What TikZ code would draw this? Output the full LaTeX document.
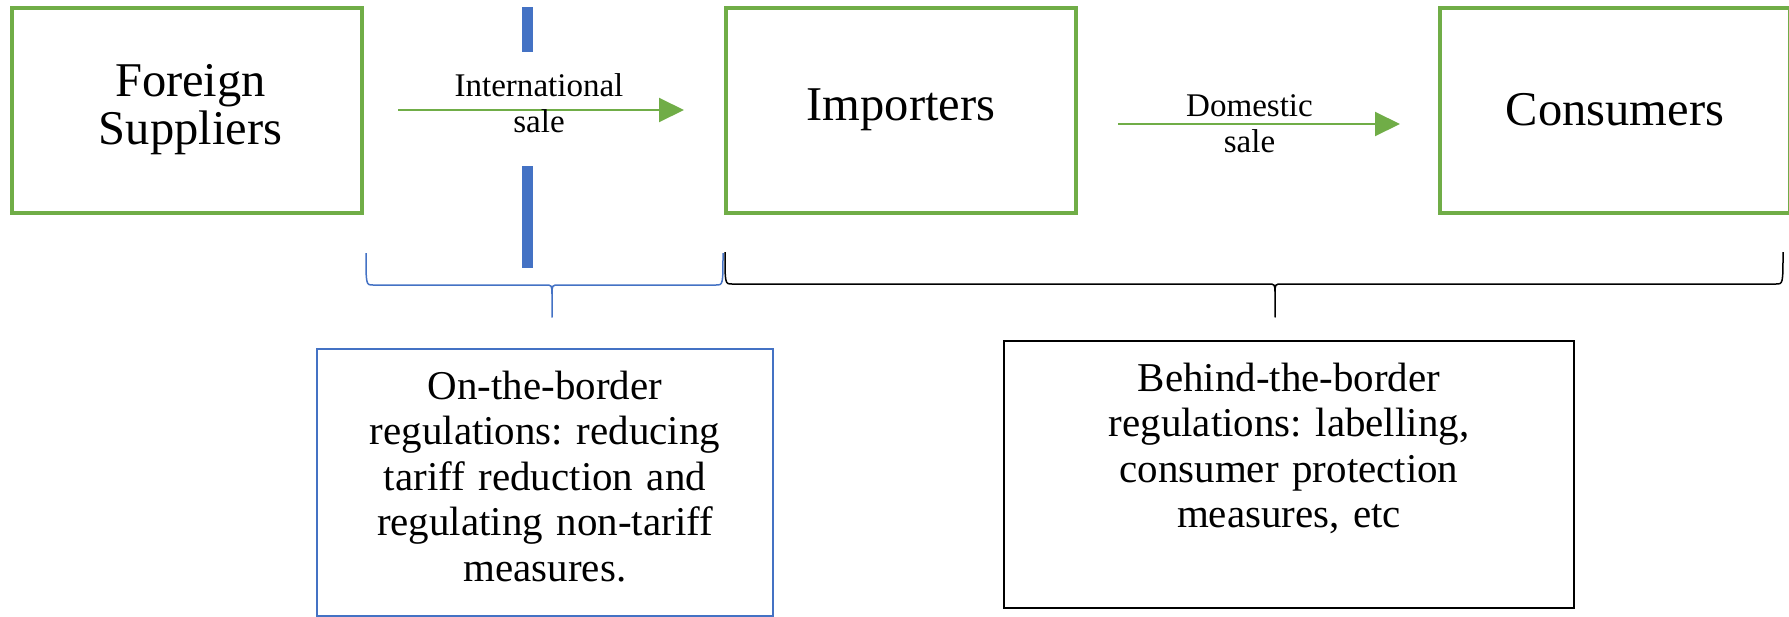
\documentclass[tikz,border=0pt]{standalone}
\usepackage{fontspec}
\setmainfont{Liberation Serif}
\usetikzlibrary{arrows.meta,positioning}
\definecolor{tradegreen}{RGB}{112,173,71}
\definecolor{borderblue}{RGB}{68,114,196}
\tikzset{
  tradebox/.style={draw=tradegreen, line width=0.08cm, minimum width=7cm, minimum height=4.1cm, align=center, font=\fontsize{27.6}{27.3}\selectfont},
  salearrow/.style={-{Triangle[length=0.5cm, width=0.48cm]}, color=tradegreen, line width=0.04cm},
  salelabel/.style={align=center, text=black, inner sep=0pt, font=\fontsize{18.8}{20.3}\selectfont},
  regbox/.style={draw, anchor=north, align=center, inner xsep=0pt, inner ysep=0.44cm, text depth=3.9cm, font=\fontsize{23.3}{25.9}\selectfont\frenchspacing},
  bracelink/.style={line width=0.03cm, line join=round},
  borderbar/.style={borderblue, line width=0.22cm}
}
\begin{document}
\begin{tikzpicture}[node distance=7.2cm]
\useasboundingbox (0,0) rectangle (35.78,-12.32);
\node[tradebox] (suppliers) at (3.74,-2.2) {\hspace*{0.14cm}Foreign\\\hspace*{0.14cm}Suppliers};
\node[tradebox, right=of suppliers] (importers) {Importers};
\node[tradebox, right=of importers] (consumers) {Consumers};
% the border
\draw[borderbar] (10.55,-0.14) -- (10.55,-1.04) (10.55,-3.32) -- (10.55,-5.36);
% sales
\draw[salearrow, shorten <=0.68cm, shorten >=0.8cm] (suppliers) -- node[salelabel, xshift=-0.1cm, yshift=0.14cm] {International\\sale} (importers);
\draw[salearrow, shorten <=0.8cm, shorten >=0.76cm] ([yshift=-0.28cm]importers.east) -- node[salelabel, xshift=-0.17cm] {Domestic\\sale} ([yshift=-0.28cm]consumers.west);
% braces
\draw[bracelink, borderblue] (7.32,-5.06) .. controls (7.32,-5.7) .. (7.46,-5.7) -- (10.9,-5.7) .. controls (11.04,-5.7) .. (11.04,-5.9) -- (11.04,-6.34) -- (11.04,-5.9) .. controls (11.04,-5.7) .. (11.18,-5.7) -- (14.32,-5.7) .. controls (14.46,-5.7) .. (14.46,-5.06);
\draw[bracelink] (14.5,-5.04) .. controls (14.5,-5.68) .. (14.64,-5.68) -- (25.36,-5.68) .. controls (25.5,-5.68) .. (25.5,-5.88) -- (25.5,-6.34) -- (25.5,-5.88) .. controls (25.5,-5.68) .. (25.64,-5.68) -- (35.52,-5.68) .. controls (35.66,-5.68) .. (35.66,-5.04);
% regulations
\node[regbox, draw=borderblue, line width=0.03cm, text width=9.12cm] (onborder) at (10.9,-6.96) {On-the-border\\regulations: reducing\\tariff reduction and\\regulating non-tariff\\measures.};
\node[regbox, line width=0.04cm, text width=11.4cm] (behindborder) at (25.78,-6.8) {Behind-the-border\\regulations: labelling,\\consumer protection\\measures, etc};
\end{tikzpicture}
\end{document}
